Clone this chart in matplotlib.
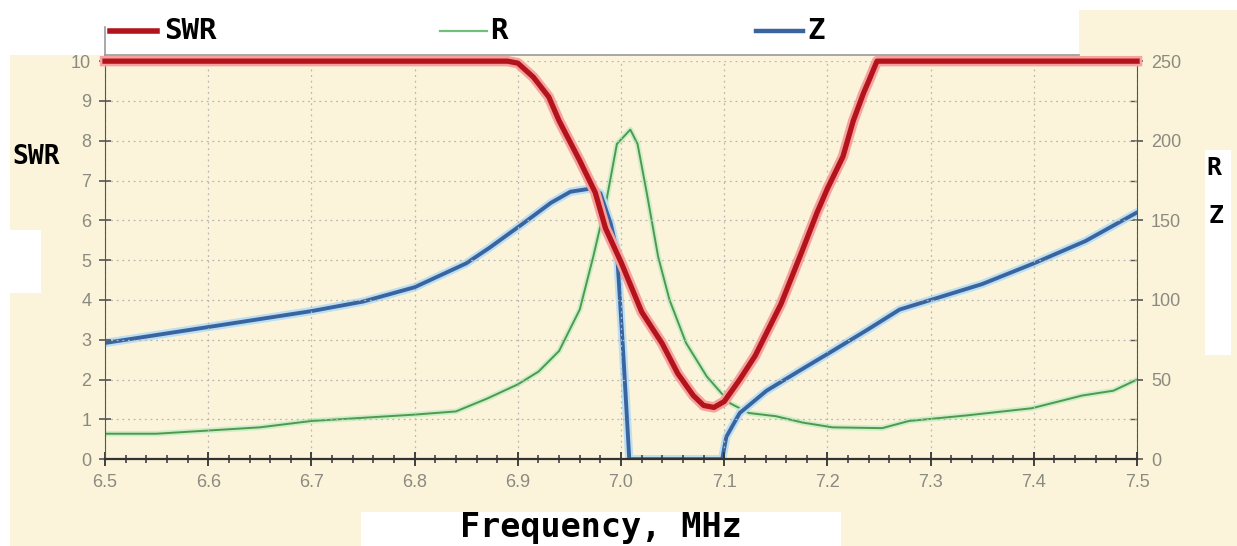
import matplotlib
matplotlib.use('Agg')
import matplotlib.pyplot as plt
import matplotlib.patheffects as pe
from matplotlib.patches import Rectangle
from matplotlib.ticker import MultipleLocator

# SWR (left axis, clipped at 10)
swr_f = [6.50, 6.89, 6.90, 6.915, 6.93, 6.94, 6.96, 6.975, 6.985, 7.00, 7.02, 7.04,
         7.055, 7.07, 7.08, 7.09, 7.10, 7.115, 7.13, 7.155, 7.175, 7.19, 7.20, 7.215,
         7.225, 7.235, 7.24, 7.248, 7.50]
swr_v = [10, 10, 9.95, 9.6, 9.1, 8.5, 7.5, 6.7, 5.8, 4.95, 3.7, 2.9,
         2.15, 1.6, 1.35, 1.3, 1.45, 2.0, 2.6, 3.9, 5.2, 6.2, 6.8, 7.6,
         8.5, 9.2, 9.5, 10, 10]

# R, ohms (right axis)
r_f = [6.50, 6.55, 6.60, 6.65, 6.70, 6.75, 6.80, 6.84, 6.87, 6.90, 6.92, 6.94,
       6.96, 6.973, 6.986, 6.996, 7.009, 7.016, 7.025, 7.036, 7.047, 7.063, 7.083,
       7.106, 7.124, 7.15, 7.176, 7.205, 7.253, 7.279, 7.335, 7.398, 7.447, 7.477, 7.50]
r_v = [16, 16, 18, 20, 24, 26, 28, 30, 38, 47, 55, 68,
       94, 127, 163, 198, 207, 198, 167, 127, 100, 73, 52,
       35, 29, 27, 23, 20, 19.5, 24, 27.5, 32, 40, 43, 50]

# Z, ohms (right axis)
z_f = [6.50, 6.55, 6.60, 6.65, 6.70, 6.75, 6.80, 6.85, 6.873, 6.905, 6.932, 6.951,
       6.971, 6.98, 6.99, 6.996, 7.002, 7.008, 7.098, 7.102, 7.115, 7.141, 7.174,
       7.205, 7.238, 7.27, 7.30, 7.35, 7.40, 7.45, 7.50]
z_v = [73, 78, 83, 88, 93, 99, 108, 123, 133, 148, 161, 168,
       170, 167, 148, 131, 68, 0, 0, 14, 29, 43, 56,
       68, 81, 94, 100, 110, 123, 137, 155]

x_ticks = [6.5, 6.6, 6.7, 6.8, 6.9, 7.0, 7.1, 7.2, 7.3, 7.4, 7.5]
x_labels = ['6.5', '6.6', '6.7', '6.8', '6.9', '7.0', '7.1', '7.2', '7.3', '7.4', '7.5']

bg = '#fbf4da'
plot_bg = '#fdfaee'
tick_col = '#8a8a80'
mono = ['DejaVu Sans Mono']

fig = plt.figure(figsize=(12.37, 5.46), dpi=100, facecolor=bg)
ax = fig.add_axes([0.0849, 0.159, 0.8343, 0.729])
ax2 = ax.twinx()

def white_box(x, y, w, h):
    fig.patches.append(Rectangle((x, y), w, h, transform=fig.transFigure,
                                 facecolor='white', edgecolor='none', zorder=0))

# white boxes of the original screenshot
white_box(0, 0.982, 1, 0.018)
white_box(0, 0, 0.008, 1)
white_box(0, 0.9, 0.8725, 0.09)
white_box(0.292, 0.0, 0.388, 0.062)
white_box(0.974, 0.35, 0.021, 0.375)
white_box(0.008, 0.463, 0.025, 0.116)
fig.add_artist(plt.Line2D([0.0849, 0.8725], [0.9, 0.9], transform=fig.transFigure,
                          color='#999999', lw=1.2))
fig.add_artist(plt.Line2D([0.0849, 0.0849], [0.9, 0.95], transform=fig.transFigure,
                          color='#999999', lw=1.2))

red_fx = [pe.Stroke(linewidth=7.5, foreground='#f6a3a0'), pe.Normal()]
grn_fx = [pe.Stroke(linewidth=4, foreground='#cdeecb'), pe.Normal()]
blu_fx = [pe.Stroke(linewidth=6, foreground='#bcdff2'), pe.Normal()]

ax2.plot(r_f, r_v, color='#4f9a4a', lw=1.4, path_effects=grn_fx, zorder=3)
ax2.plot(z_f, z_v, color='#3a649f', lw=2.8, path_effects=blu_fx, zorder=4)
ax.plot(swr_f, swr_v, color='#b3141c', lw=3.8, path_effects=red_fx, zorder=5, clip_on=False)
ax.set_zorder(ax2.get_zorder() + 1)
ax.patch.set_visible(False)
ax2.set_facecolor(plot_bg)

ax.set_xlim(6.5, 7.5)
ax.set_ylim(0, 10)
ax2.set_ylim(0, 250)
ax.set_xticks(x_ticks)
ax.set_xticklabels(x_labels)
ax.xaxis.set_minor_locator(MultipleLocator(0.02))
ax.set_yticks(range(0, 11))
ax2.set_yticks(range(0, 251, 50))
ax2.yaxis.set_minor_locator(MultipleLocator(25))

ax.grid(True, which='major', linestyle=(0, (1.5, 3)), color='#b8b8b0', lw=0.9)

for a in (ax, ax2):
    for s in a.spines.values():
        s.set_visible(False)
ax.spines['left'].set_visible(True)
ax.spines['bottom'].set_visible(True)
ax2.spines['right'].set_visible(True)
ax.spines['left'].set_color('#555555')
ax.spines['bottom'].set_color('#333333')
ax.spines['bottom'].set_linewidth(1.6)
ax2.spines['right'].set_color('#555555')

ax.tick_params(axis='x', which='major', direction='inout', length=10, width=1.3,
               color='#333333', labelcolor=tick_col, labelsize=13, pad=6)
ax.tick_params(axis='x', which='minor', direction='inout', length=6, width=1.1, color='#333333')
ax.tick_params(axis='y', direction='inout', length=8, width=1.2, color='#555555',
               labelcolor=tick_col, labelsize=13, pad=6)
ax2.tick_params(axis='y', which='major', direction='inout', length=8, width=1.2,
                color='#555555', labelcolor=tick_col, labelsize=13, pad=6)
ax2.tick_params(axis='y', which='minor', direction='in', length=5, width=1.0, color='#555555')
for lab in ax.get_xticklabels() + ax.get_yticklabels() + ax2.get_yticklabels():
    lab.set_family('Liberation Sans')

# legend strip
leg = [('SWR', '#b3141c', 4.0, 0.089, 0.133), ('R', '#6fc07a', 1.6, 0.356, 0.396),
       ('Z', '#3a649f', 3.2, 0.611, 0.653)]
for name, col, lw, x0, xt in leg:
    fig.add_artist(plt.Line2D([x0, x0 + 0.038], [0.944, 0.944], transform=fig.transFigure,
                              color=col, lw=lw))
    fig.text(xt, 0.944, name, family=mono, weight='bold', fontsize=21,
             va='center', ha='left')

fig.text(0.4855, 0.033, 'Frequency, MHz', family=mono, weight='bold', fontsize=24,
         ha='center', va='center')
fig.text(0.029, 0.712, 'SWR', family=mono, weight='bold', fontsize=19,
         ha='center', va='center')
fig.text(0.981, 0.692, 'R', family=mono, weight='bold', fontsize=18,
         ha='center', va='center')
fig.text(0.983, 0.605, 'Z', family=mono, weight='bold', fontsize=18,
         ha='center', va='center')

fig.savefig('out.png', dpi=100, facecolor=bg)
